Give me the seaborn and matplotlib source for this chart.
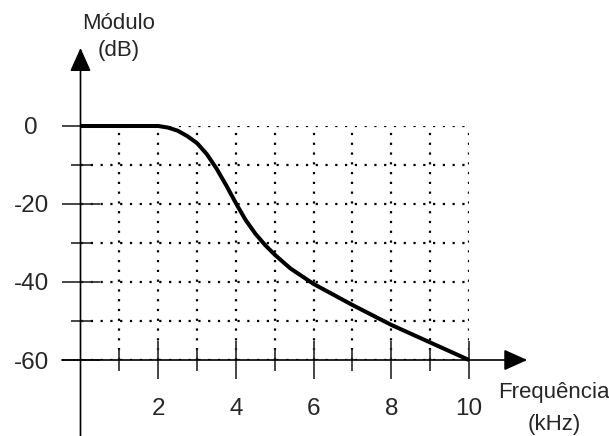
"""
Low-pass filter magnitude response sketch (Módulo vs Frequência).
"""

import numpy as np
import pandas as pd
import matplotlib.pyplot as plt
import seaborn as sns

sns.set_style("white")
plt.rcParams['font.family'] = ['Liberation Sans', 'DejaVu Sans']

# ─── Data ───────────────────────────────────────────────────────────────────
freq_khz = [0, 1, 2, 2.25, 2.5, 2.75, 3, 3.25, 3.5, 3.75, 4, 4.25, 4.5,
            4.75, 5, 5.4, 6, 7, 8, 9, 10]
gain_db = [0, 0, 0, -0.4, -1.2, -2.6, -4.4, -7.2, -10.9, -15.2, -19.8, -24.1,
           -27.6, -30.5, -33.0, -36.5, -40.5, -45.9, -51.0, -55.5, -60]

x_major = [2, 4, 6, 8, 10]
x_minor = [1, 3, 5, 7, 9]
x_labels = ['2', '4', '6', '8', '10']
y_major = [-60, -40, -20, 0]
y_minor = [-50, -30, -10]
y_labels = ['-60', '-40', '-20', '0']

df = pd.DataFrame({'freq': freq_khz, 'gain': gain_db})

# ─── Figure ─────────────────────────────────────────────────────────────────
W, H = 609, 436
fig = plt.figure(figsize=(W / 100, H / 100), dpi=100)
ax = fig.add_axes([80.5 / W, (H - 360) / H, 388.5 / W, 234 / H])
ax.set_xlim(0, 10)
ax.set_ylim(-60, 0)
for s in ax.spines.values():
    s.set_visible(False)

# dotted grid on major + minor ticks
ax.set_xticks(x_major)
ax.set_xticks(x_minor, minor=True)
ax.set_yticks(y_major)
ax.set_yticks(y_minor, minor=True)
ax.set_xticklabels(x_labels)
ax.set_yticklabels(y_labels)
ax.set_axisbelow(True)
ax.grid(which='both', color='black', linewidth=1.6, linestyle=(0, (1, 3.4)))

ax.tick_params(axis='x', which='major', direction='inout', length=28,
               width=1.2, pad=13.5, labelsize=17.5, bottom=True)
ax.tick_params(axis='x', which='minor', direction='inout', length=15.5,
               width=1.2, bottom=True)
ax.tick_params(axis='y', which='major', direction='inout', length=27,
               width=1.2, pad=22, labelsize=17.5, left=True)
ax.tick_params(axis='y', which='minor', direction='inout', length=14.5,
               width=1.2, left=True)
for lab in ax.get_yticklabels():
    lab.set_horizontalalignment('center')

# axis lines with arrows
arrow = dict(arrowstyle='-|>,head_length=1.45,head_width=0.65',
             color='black', lw=1.2, shrinkA=0, shrinkB=0)
ax.annotate('', xy=(11.5, -60), xytext=(-0.48, -60), arrowprops=arrow,
            annotation_clip=False)
ax.annotate('', xy=(0, 20), xytext=(0, -80), arrowprops=arrow,
            annotation_clip=False)

# curve
sns.lineplot(data=df, x='freq', y='gain', ax=ax, color='black',
             linewidth=2.9, clip_on=False, solid_capstyle='butt',
             solid_joinstyle='round')
ax.set_xlabel('')
ax.set_ylabel('')

# axis titles
ax.text(0.99, 22.8, 'Módulo\n(dB)', ha='center', va='center', fontsize=16,
        linespacing=1.38)
ax.text(12.19, -72.5, 'Frequência\n(kHz)', ha='center', va='center',
        fontsize=16, linespacing=1.7)

fig.savefig('out.png', dpi=100)
